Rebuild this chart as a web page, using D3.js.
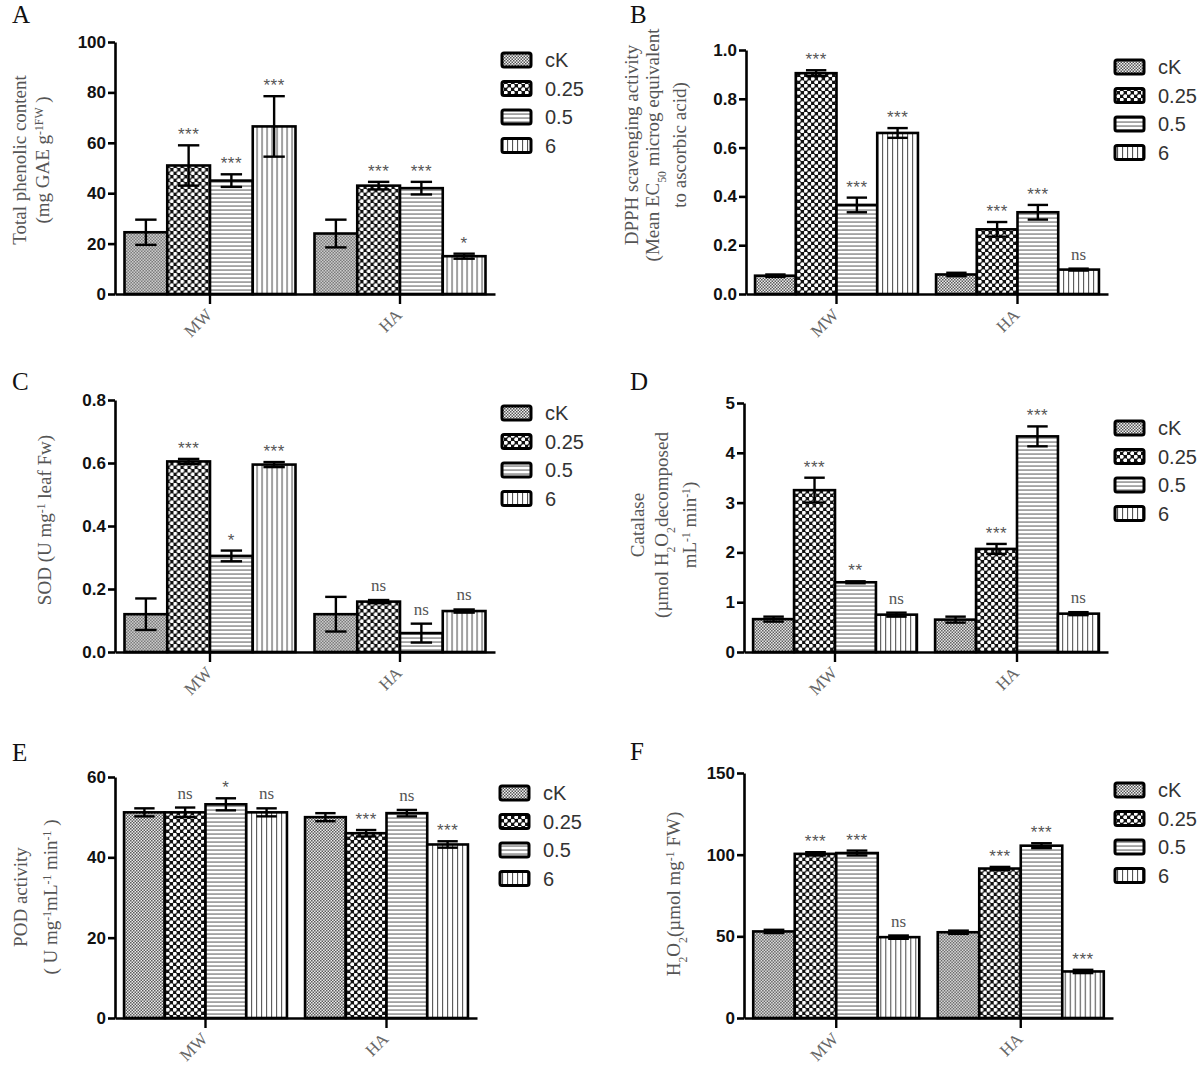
<!DOCTYPE html>
<html><head><meta charset="utf-8">
<script src="https://cdn.jsdelivr.net/npm/d3@7"></script>
<style>body{margin:0;background:#fff}</style>
</head><body>
<svg id="c" width="1200" height="1069"></svg>
<script>
const groups = ["MW","HA"];
const series = ["cK","0.25","0.5","6"];

// A: Total phenolic content
const phenolicMean = [[24.5,51,45,66.5],[24,43,42,15]];
const phenolicErr  = [[5,8,2.5,12],[5.5,1.5,2.5,1]];
const phenolicSig  = [["","***","***","***"],["","***","***","*"]];
const phenolicTicks = [0,20,40,60,80,100];

// B: DPPH scavenging activity
const dpphMean = [[0.075,0.905,0.365,0.66],[0.08,0.265,0.335,0.10]];
const dpphErr  = [[0.005,0.012,0.03,0.02],[0.007,0.03,0.03,0.004]];
const dpphSig  = [["","***","***","***"],["","***","***","ns"]];
const dpphTicks = [0,0.2,0.4,0.6,0.8,1.0];

// C: SOD
const sodMean = [[0.12,0.605,0.305,0.595],[0.12,0.16,0.06,0.13]];
const sodErr  = [[0.05,0.008,0.017,0.008],[0.055,0.005,0.03,0.005]];
const sodSig  = [["","***","*","***"],["","ns","ns","ns"]];
const sodTicks = [0,0.2,0.4,0.6,0.8];

// D: Catalase
const catMean = [[0.66,3.25,1.4,0.75],[0.65,2.07,4.33,0.77]];
const catErr  = [[0.05,0.25,0.02,0.04],[0.06,0.1,0.2,0.03]];
const catSig  = [["","***","**","ns"],["","***","***","ns"]];
const catTicks = [0,1,2,3,4,5];

// E: POD activity
const podMean = [[51.2,51.2,53.2,51.2],[50,46,51,43.2]];
const podErr  = [[1,1.2,1.5,1],[1,0.8,0.8,0.8]];
const podSig  = [["","ns","*","ns"],["","***","ns","***"]];
const podTicks = [0,20,40,60];

// F: H2O2
const h2o2Mean = [[53,100.5,101,49.5],[52.5,91.5,105.5,28.5]];
const h2o2Err  = [[1,1,1.5,1],[1,1,1.5,1]];
const h2o2Sig  = [["","***","***","ns"],["","***","***","***"]];
const h2o2Ticks = [0,50,100,150];

const panels = [
  {id:"A", mean:phenolicMean, err:phenolicErr, sig:phenolicSig, ticks:phenolicTicks, fmt:d3.format("d"),
   lx:12, ly:23, x0:115, x1:495, yTop:42, yBot:294, legX:502, legY:60,
   ylab:[[["Total phenolic content"]],[["(mg GAE g"],["-1FW","sup"],[" )"]]], ylabX:[26,49], ylabY:160},
  {id:"B", mean:dpphMean, err:dpphErr, sig:dpphSig, ticks:dpphTicks, fmt:d3.format(".1f"),
   lx:630, ly:23, x0:746, x1:1108, yTop:50, yBot:294, legX:1115, legY:67,
   ylab:[[["DPPH scavenging activity"]],[["(Mean EC"],["50","sub"],[" microg equivalent"]],[["to ascorbic acid)"]]], ylabX:[638,659,686], ylabY:145},
  {id:"C", mean:sodMean, err:sodErr, sig:sodSig, ticks:sodTicks, fmt:d3.format(".1f"),
   lx:12, ly:390, x0:115, x1:495, yTop:400, yBot:652, legX:502, legY:413,
   ylab:[[["SOD (U mg"],["-1","sup"],[" leaf Fw)"]]], ylabX:[51], ylabY:520},
  {id:"D", mean:catMean, err:catErr, sig:catSig, ticks:catTicks, fmt:d3.format("d"),
   lx:630, ly:390, x0:744, x1:1108, yTop:403, yBot:652, legX:1115, legY:428,
   ylab:[[["Catalase"]],[["(µmol H"],["2","sub"],["O"],["2","sub"],["decomposed"]],[["mL"],["-1","sup"],[" min"],["-1","sup"],[")"]]], ylabX:[644,668,696], ylabY:525},
  {id:"E", mean:podMean, err:podErr, sig:podSig, ticks:podTicks, fmt:d3.format("d"),
   lx:12, ly:761, x0:115, x1:477, yTop:777, yBot:1018, legX:500, legY:793,
   ylab:[[["POD activity"]],[["( U mg"],["-1","sup"],["mL"],["-1","sup"],[" min"],["-1","sup"],[" )"]]], ylabX:[27,57], ylabY:897},
  {id:"F", mean:h2o2Mean, err:h2o2Err, sig:h2o2Sig, ticks:h2o2Ticks, fmt:d3.format("d"),
   lx:630, ly:760, x0:744, x1:1113, yTop:773, yBot:1018, legX:1115, legY:790,
   ylab:[[["H"],["2","sub"],["O"],["2","sub"],["(µmol mg"],["-1","sup"],[" FW)"]]], ylabX:[680], ylabY:894}
];

const svg = d3.select("#c");
const defs = svg.append("defs");

// patterns
const pCk = defs.append("pattern").attr("id","p0").attr("patternUnits","userSpaceOnUse").attr("width",3).attr("height",3);
pCk.append("rect").attr("width",3).attr("height",3).attr("fill","#f2f2f2");
pCk.append("rect").attr("width",1.5).attr("height",1.5).attr("fill","#555");
pCk.append("rect").attr("x",1.5).attr("y",1.5).attr("width",1.5).attr("height",1.5).attr("fill","#555");

const p025 = defs.append("pattern").attr("id","p1").attr("patternUnits","userSpaceOnUse").attr("width",7).attr("height",7);
p025.append("rect").attr("width",7).attr("height",7).attr("fill","#111");
p025.append("circle").attr("cx",1.75).attr("cy",1.75).attr("r",2.0).attr("fill","#fff");
p025.append("circle").attr("cx",5.25).attr("cy",5.25).attr("r",2.0).attr("fill","#fff");

const p05 = defs.append("pattern").attr("id","p2").attr("patternUnits","userSpaceOnUse").attr("width",4).attr("height",4);
p05.append("rect").attr("width",4).attr("height",4).attr("fill","#fff");
p05.append("rect").attr("y",1.5).attr("width",4).attr("height",1.1).attr("fill","#666");

const p6 = defs.append("pattern").attr("id","p3").attr("patternUnits","userSpaceOnUse").attr("width",5).attr("height",5);
p6.append("rect").attr("width",5).attr("height",5).attr("fill","#fff");
p6.append("rect").attr("x",2).attr("width",1.1).attr("height",5).attr("fill","#555");

const fills = series.map((s,i)=>`url(#p${i})`);

function richText(sel, segs){
  segs.forEach(([t,kind])=>{
    const ts = sel.append("tspan").text(t);
    if(kind==="sup"){ ts.attr("baseline-shift","super").attr("font-size","0.62em"); }
    if(kind==="sub"){ ts.attr("baseline-shift","sub").attr("font-size","0.62em"); }
  });
}

panels.forEach(p=>{
  const g = svg.append("g");
  const y = d3.scaleLinear().domain([0, d3.max(p.ticks)]).range([p.yBot, p.yTop]);
  const xg = d3.scaleBand().domain(groups).range([p.x0, p.x1]).paddingInner(0.1).paddingOuter(0.05);
  const xs = d3.scaleBand().domain(series).range([0, xg.bandwidth()]);
  const bw = xs.bandwidth();

  // panel label
  g.append("text").attr("x",p.lx).attr("y",p.ly).text(p.id)
    .attr("font-family","Liberation Serif, Times New Roman, serif").attr("font-size",25).attr("fill","#111");

  // bars
  groups.forEach((grp,gi)=>{
    const gg = g.append("g").attr("transform",`translate(${xg(grp)},0)`);
    series.forEach((s,si)=>{
      const v = p.mean[gi][si], e = p.err[gi][si];
      const bx = xs(s);
      gg.append("rect").attr("x",bx).attr("y",y(v)).attr("width",bw).attr("height",y(0)-y(v))
        .attr("fill",fills[si]).attr("stroke","#000").attr("stroke-width",2.6);
      // error bar
      const cx = bx + bw/2, cw = bw*0.25;
      const eb = gg.append("g").attr("stroke","#000").attr("stroke-width",2.4);
      eb.append("line").attr("x1",cx).attr("x2",cx).attr("y1",y(Math.max(0,v-e))).attr("y2",y(v+e));
      eb.append("line").attr("x1",cx-cw).attr("x2",cx+cw).attr("y1",y(v+e)).attr("y2",y(v+e));
      eb.append("line").attr("x1",cx-cw).attr("x2",cx+cw).attr("y1",y(Math.max(0,v-e))).attr("y2",y(Math.max(0,v-e)));
      const sg = p.sig[gi][si];
      if(sg){
        const isNs = sg==="ns";
        gg.append("text").attr("x",cx).attr("y",y(v+e) - (isNs?9:5)).attr("text-anchor","middle")
          .attr("font-family", isNs ? "Liberation Serif, serif" : "Liberation Sans, Arial, sans-serif")
          .attr("font-size", isNs?17:17).attr("letter-spacing", isNs?0:0.5)
          .attr("fill","#555").text(sg);
      }
    });
  });

  // y axis
  const ya = g.append("g").attr("transform",`translate(${p.x0},0)`)
    .call(d3.axisLeft(y).tickValues(p.ticks).tickFormat(p.fmt).tickSize(7).tickPadding(2).tickSizeOuter(0));
  ya.select(".domain").attr("stroke","#000").attr("stroke-width",2.6);
  ya.selectAll(".tick line").attr("stroke","#000").attr("stroke-width",2.6);
  ya.selectAll(".tick text").attr("font-family","Liberation Sans, Arial, sans-serif").attr("font-weight","bold")
    .attr("font-size",17).attr("fill","#111");

  // x axis
  const xa = g.append("g").attr("transform",`translate(0,${p.yBot})`)
    .call(d3.axisBottom(xg).tickSize(10).tickSizeOuter(0).tickFormat(""));
  xa.select(".domain").attr("stroke","#000").attr("stroke-width",2.6);
  xa.selectAll(".tick line").attr("stroke","#000").attr("stroke-width",2.4);
  groups.forEach(grp=>{
    const cx = xg(grp) + xg.bandwidth()/2;
    g.append("text").attr("transform",`translate(${cx+3},${p.yBot+22}) rotate(-45)`)
      .attr("text-anchor","end").attr("font-family","Liberation Serif, Times New Roman, serif")
      .attr("font-size",17).attr("fill","#666").text(grp);
  });

  // y label
  p.ylab.forEach((line,li)=>{
    const t = g.append("text").attr("transform",`translate(${p.ylabX[li]},${p.ylabY}) rotate(-90)`)
      .attr("text-anchor","middle").attr("font-family","Liberation Serif, Times New Roman, serif")
      .attr("font-size",19).attr("fill","#555");
    richText(t, line);
  });

  // legend
  series.forEach((s,si)=>{
    const ly = p.legY + si*28.5;
    g.append("rect").attr("x",p.legX).attr("y",ly-7).attr("width",29).attr("height",14).attr("rx",2)
      .attr("fill",fills[si]).attr("stroke","#000").attr("stroke-width",3);
    g.append("text").attr("x",p.legX+43).attr("y",ly).attr("dy","0.35em")
      .attr("font-family","Liberation Sans, Arial, sans-serif").attr("font-size",20).attr("fill","#333").text(s);
  });
});
</script>
</body></html>
